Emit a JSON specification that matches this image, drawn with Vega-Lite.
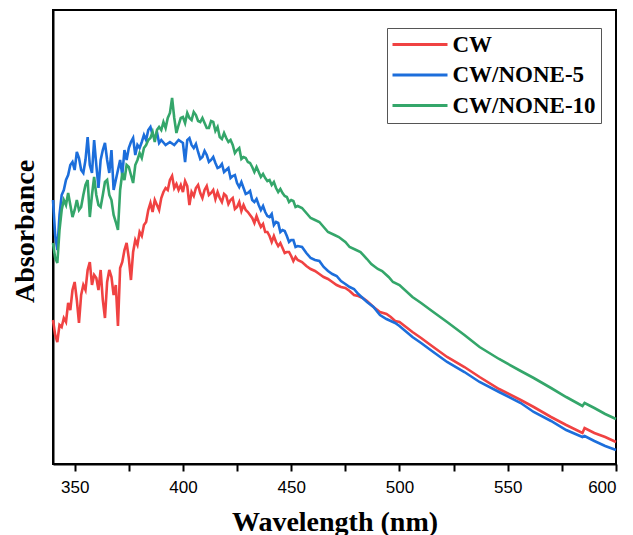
{
  "$schema": "https://vega.github.io/schema/vega-lite/v6.json",
  "width": 563,
  "height": 454,
  "autosize": "none",
  "padding": {"left": 53, "top": 10, "right": 17, "bottom": 71},
  "background": "white",
  "config": {
    "view": {"stroke": "black", "strokeWidth": 2},
    "axis": {"grid": false, "domainColor": "black", "domainWidth": 2, "tickColor": "black", "labelColor": "black", "titleColor": "black"}
  },
  "data": {"values": [
    {"s":"CW","x":340,"y":144},{"s":"CW","x":341,"y":129},{"s":"CW","x":342,"y":122},{"s":"CW","x":343,"y":139},{"s":"CW","x":344,"y":137},{"s":"CW","x":345,"y":146},{"s":"CW","x":346,"y":142},{"s":"CW","x":347,"y":161},{"s":"CW","x":348,"y":154},{"s":"CW","x":349,"y":174},{"s":"CW","x":350,"y":182},{"s":"CW","x":351,"y":164},{"s":"CW","x":352,"y":141},{"s":"CW","x":353,"y":169},{"s":"CW","x":354,"y":179},{"s":"CW","x":355,"y":174},{"s":"CW","x":356,"y":194},{"s":"CW","x":357,"y":202},{"s":"CW","x":358,"y":179},{"s":"CW","x":359,"y":189},{"s":"CW","x":360,"y":186},{"s":"CW","x":361,"y":174},{"s":"CW","x":362,"y":194},{"s":"CW","x":363,"y":164},{"s":"CW","x":364,"y":146},{"s":"CW","x":365,"y":182},{"s":"CW","x":366,"y":194},{"s":"CW","x":367,"y":187},{"s":"CW","x":368,"y":169},{"s":"CW","x":369,"y":179},{"s":"CW","x":370,"y":138},{"s":"CW","x":371,"y":196},{"s":"CW","x":372,"y":202},{"s":"CW","x":373,"y":214},{"s":"CW","x":374,"y":221},{"s":"CW","x":375,"y":206},{"s":"CW","x":376,"y":184},{"s":"CW","x":377,"y":212},{"s":"CW","x":378,"y":224},{"s":"CW","x":379,"y":219},{"s":"CW","x":380,"y":232},{"s":"CW","x":381,"y":228},{"s":"CW","x":382,"y":239},{"s":"CW","x":383,"y":242},{"s":"CW","x":384,"y":254},{"s":"CW","x":385,"y":261},{"s":"CW","x":386,"y":252},{"s":"CW","x":387,"y":264},{"s":"CW","x":388,"y":259},{"s":"CW","x":389,"y":254},{"s":"CW","x":390,"y":266},{"s":"CW","x":391,"y":272},{"s":"CW","x":392,"y":276},{"s":"CW","x":393,"y":274},{"s":"CW","x":394,"y":284},{"s":"CW","x":395,"y":288},{"s":"CW","x":396,"y":276},{"s":"CW","x":397,"y":280},{"s":"CW","x":398,"y":274},{"s":"CW","x":399,"y":279},{"s":"CW","x":400,"y":272},{"s":"CW","x":402,"y":278},{"s":"CW","x":403,"y":259},{"s":"CW","x":404,"y":272},{"s":"CW","x":406,"y":276},{"s":"CW","x":408,"y":271},{"s":"CW","x":410,"y":274},{"s":"CW","x":412,"y":269},{"s":"CW","x":414,"y":274},{"s":"CW","x":417,"y":266},{"s":"CW","x":420,"y":268},{"s":"CW","x":422,"y":264},{"s":"CW","x":425,"y":257},{"s":"CW","x":428,"y":259},{"s":"CW","x":430,"y":252},{"s":"CW","x":432,"y":246},{"s":"CW","x":435,"y":242},{"s":"CW","x":438,"y":232},{"s":"CW","x":440,"y":228},{"s":"CW","x":443,"y":222},{"s":"CW","x":446,"y":216},{"s":"CW","x":448,"y":212},{"s":"CW","x":450,"y":208},{"s":"CW","x":453,"y":204},{"s":"CW","x":457,"y":198},{"s":"CW","x":461,"y":193},{"s":"CW","x":465,"y":187},{"s":"CW","x":469,"y":182},{"s":"CW","x":473,"y":177},{"s":"CW","x":477,"y":173},{"s":"CW","x":481,"y":168},{"s":"CW","x":485,"y":163},{"s":"CW","x":491,"y":152},{"s":"CW","x":496,"y":147},{"s":"CW","x":500,"y":142},{"s":"CW","x":506,"y":132},{"s":"CW","x":510,"y":126},{"s":"CW","x":515,"y":118},{"s":"CW","x":522,"y":107},{"s":"CW","x":530,"y":97},{"s":"CW","x":537,"y":87},{"s":"CW","x":546,"y":75},{"s":"CW","x":556,"y":64},{"s":"CW","x":562,"y":57},{"s":"CW","x":570,"y":47},{"s":"CW","x":577,"y":39},{"s":"CW","x":584.5,"y":31},{"s":"CW","x":585.5,"y":36},{"s":"CW","x":590,"y":31},{"s":"CW","x":595,"y":27},{"s":"CW","x":600,"y":22},
    {"s":"CW","x":401,"y":283},{"s":"CW","x":405,"y":268},{"s":"CW","x":407,"y":279},{"s":"CW","x":409,"y":266},{"s":"CW","x":411,"y":278},{"s":"CW","x":413,"y":271},{"s":"CW","x":415,"y":265},{"s":"CW","x":416,"y":272},{"s":"CW","x":418,"y":262},{"s":"CW","x":419,"y":270},{"s":"CW","x":421,"y":260},{"s":"CW","x":423,"y":266},{"s":"CW","x":424,"y":255},{"s":"CW","x":426,"y":262},{"s":"CW","x":427,"y":253},{"s":"CW","x":429,"y":254},{"s":"CW","x":431,"y":249},{"s":"CW","x":433,"y":241},{"s":"CW","x":434,"y":248},{"s":"CW","x":436,"y":237},{"s":"CW","x":437,"y":240},{"s":"CW","x":439,"y":232},{"s":"CW","x":441,"y":222},{"s":"CW","x":442,"y":228},{"s":"CW","x":444,"y":218},{"s":"CW","x":445,"y":221},{"s":"CW","x":447,"y":211},{"s":"CW","x":449,"y":212},{"s":"CW","x":451,"y":203},{"s":"CW","x":452,"y":207},{"s":"CW","x":455,"y":202},{"s":"CW","x":459,"y":195},{"s":"CW","x":463,"y":190},{"s":"CW","x":467,"y":185},{"s":"CW","x":471,"y":179},{"s":"CW","x":475,"y":176},{"s":"CW","x":479,"y":169},{"s":"CW","x":483,"y":166},{"s":"CW","x":488,"y":157},{"s":"CW","x":494,"y":150},{"s":"CW","x":498,"y":143},
    {"s":"CW/NONE-5","x":340,"y":264},{"s":"CW/NONE-5","x":341,"y":229},{"s":"CW/NONE-5","x":342,"y":214},{"s":"CW/NONE-5","x":343,"y":249},{"s":"CW/NONE-5","x":344,"y":269},{"s":"CW/NONE-5","x":345,"y":274},{"s":"CW/NONE-5","x":346,"y":284},{"s":"CW/NONE-5","x":347,"y":289},{"s":"CW/NONE-5","x":348,"y":299},{"s":"CW/NONE-5","x":349,"y":302},{"s":"CW/NONE-5","x":350,"y":294},{"s":"CW/NONE-5","x":351,"y":312},{"s":"CW/NONE-5","x":352,"y":306},{"s":"CW/NONE-5","x":353,"y":294},{"s":"CW/NONE-5","x":354,"y":291},{"s":"CW/NONE-5","x":355,"y":304},{"s":"CW/NONE-5","x":356,"y":327},{"s":"CW/NONE-5","x":357,"y":299},{"s":"CW/NONE-5","x":358,"y":291},{"s":"CW/NONE-5","x":359,"y":324},{"s":"CW/NONE-5","x":360,"y":299},{"s":"CW/NONE-5","x":361,"y":276},{"s":"CW/NONE-5","x":362,"y":304},{"s":"CW/NONE-5","x":363,"y":314},{"s":"CW/NONE-5","x":364,"y":321},{"s":"CW/NONE-5","x":365,"y":304},{"s":"CW/NONE-5","x":366,"y":291},{"s":"CW/NONE-5","x":367,"y":314},{"s":"CW/NONE-5","x":368,"y":274},{"s":"CW/NONE-5","x":369,"y":284},{"s":"CW/NONE-5","x":370,"y":294},{"s":"CW/NONE-5","x":371,"y":304},{"s":"CW/NONE-5","x":372,"y":289},{"s":"CW/NONE-5","x":373,"y":314},{"s":"CW/NONE-5","x":374,"y":304},{"s":"CW/NONE-5","x":375,"y":316},{"s":"CW/NONE-5","x":376,"y":322},{"s":"CW/NONE-5","x":377,"y":326},{"s":"CW/NONE-5","x":378,"y":309},{"s":"CW/NONE-5","x":379,"y":319},{"s":"CW/NONE-5","x":380,"y":316},{"s":"CW/NONE-5","x":381,"y":322},{"s":"CW/NONE-5","x":382,"y":329},{"s":"CW/NONE-5","x":383,"y":324},{"s":"CW/NONE-5","x":384,"y":334},{"s":"CW/NONE-5","x":385,"y":337},{"s":"CW/NONE-5","x":386,"y":329},{"s":"CW/NONE-5","x":387,"y":326},{"s":"CW/NONE-5","x":388,"y":332},{"s":"CW/NONE-5","x":389,"y":321},{"s":"CW/NONE-5","x":390,"y":324},{"s":"CW/NONE-5","x":392,"y":319},{"s":"CW/NONE-5","x":394,"y":322},{"s":"CW/NONE-5","x":396,"y":319},{"s":"CW/NONE-5","x":398,"y":324},{"s":"CW/NONE-5","x":400,"y":321},{"s":"CW/NONE-5","x":401,"y":302},{"s":"CW/NONE-5","x":402,"y":324},{"s":"CW/NONE-5","x":403,"y":326},{"s":"CW/NONE-5","x":405,"y":316},{"s":"CW/NONE-5","x":407,"y":312},{"s":"CW/NONE-5","x":409,"y":307},{"s":"CW/NONE-5","x":411,"y":309},{"s":"CW/NONE-5","x":413,"y":304},{"s":"CW/NONE-5","x":415,"y":301},{"s":"CW/NONE-5","x":417,"y":297},{"s":"CW/NONE-5","x":420,"y":294},{"s":"CW/NONE-5","x":423,"y":288},{"s":"CW/NONE-5","x":425,"y":281},{"s":"CW/NONE-5","x":428,"y":276},{"s":"CW/NONE-5","x":430,"y":271},{"s":"CW/NONE-5","x":432,"y":264},{"s":"CW/NONE-5","x":435,"y":259},{"s":"CW/NONE-5","x":438,"y":252},{"s":"CW/NONE-5","x":440,"y":247},{"s":"CW/NONE-5","x":443,"y":242},{"s":"CW/NONE-5","x":446,"y":234},{"s":"CW/NONE-5","x":448,"y":228},{"s":"CW/NONE-5","x":450,"y":224},{"s":"CW/NONE-5","x":453,"y":218},{"s":"CW/NONE-5","x":457,"y":211},{"s":"CW/NONE-5","x":461,"y":204},{"s":"CW/NONE-5","x":465,"y":197},{"s":"CW/NONE-5","x":469,"y":190},{"s":"CW/NONE-5","x":473,"y":183},{"s":"CW/NONE-5","x":477,"y":177},{"s":"CW/NONE-5","x":481,"y":170},{"s":"CW/NONE-5","x":485,"y":162},{"s":"CW/NONE-5","x":491,"y":149},{"s":"CW/NONE-5","x":496,"y":143},{"s":"CW/NONE-5","x":500,"y":138},{"s":"CW/NONE-5","x":506,"y":127},{"s":"CW/NONE-5","x":510,"y":121},{"s":"CW/NONE-5","x":515,"y":113},{"s":"CW/NONE-5","x":522,"y":102},{"s":"CW/NONE-5","x":530,"y":92},{"s":"CW/NONE-5","x":537,"y":82},{"s":"CW/NONE-5","x":546,"y":72},{"s":"CW/NONE-5","x":556,"y":61},{"s":"CW/NONE-5","x":562,"y":52},{"s":"CW/NONE-5","x":570,"y":43},{"s":"CW/NONE-5","x":577,"y":34},{"s":"CW/NONE-5","x":584.5,"y":27},{"s":"CW/NONE-5","x":585.5,"y":28},{"s":"CW/NONE-5","x":590,"y":23},{"s":"CW/NONE-5","x":595,"y":18},{"s":"CW/NONE-5","x":600,"y":14},
    {"s":"CW/NONE-5","x":404,"y":319},{"s":"CW/NONE-5","x":406,"y":320},{"s":"CW/NONE-5","x":408,"y":305},{"s":"CW/NONE-5","x":410,"y":313},{"s":"CW/NONE-5","x":412,"y":302},{"s":"CW/NONE-5","x":414,"y":307},{"s":"CW/NONE-5","x":416,"y":296},{"s":"CW/NONE-5","x":418,"y":300},{"s":"CW/NONE-5","x":419,"y":292},{"s":"CW/NONE-5","x":421,"y":296},{"s":"CW/NONE-5","x":422,"y":286},{"s":"CW/NONE-5","x":424,"y":289},{"s":"CW/NONE-5","x":426,"y":277},{"s":"CW/NONE-5","x":427,"y":282},{"s":"CW/NONE-5","x":429,"y":270},{"s":"CW/NONE-5","x":431,"y":273},{"s":"CW/NONE-5","x":433,"y":262},{"s":"CW/NONE-5","x":434,"y":265},{"s":"CW/NONE-5","x":436,"y":254},{"s":"CW/NONE-5","x":437,"y":258},{"s":"CW/NONE-5","x":439,"y":248},{"s":"CW/NONE-5","x":441,"y":250},{"s":"CW/NONE-5","x":442,"y":239},{"s":"CW/NONE-5","x":444,"y":241},{"s":"CW/NONE-5","x":445,"y":232},{"s":"CW/NONE-5","x":447,"y":233},{"s":"CW/NONE-5","x":449,"y":222},{"s":"CW/NONE-5","x":451,"y":224},{"s":"CW/NONE-5","x":452,"y":217},{"s":"CW/NONE-5","x":455,"y":217},{"s":"CW/NONE-5","x":459,"y":206},{"s":"CW/NONE-5","x":463,"y":203},{"s":"CW/NONE-5","x":467,"y":193},{"s":"CW/NONE-5","x":471,"y":188},{"s":"CW/NONE-5","x":475,"y":180},{"s":"CW/NONE-5","x":479,"y":175},{"s":"CW/NONE-5","x":483,"y":166},{"s":"CW/NONE-5","x":488,"y":157},{"s":"CW/NONE-5","x":494,"y":145},{"s":"CW/NONE-5","x":498,"y":141},
    {"s":"CW/NONE-10","x":340,"y":221},{"s":"CW/NONE-10","x":341,"y":206},{"s":"CW/NONE-10","x":342,"y":201},{"s":"CW/NONE-10","x":343,"y":234},{"s":"CW/NONE-10","x":344,"y":254},{"s":"CW/NONE-10","x":345,"y":264},{"s":"CW/NONE-10","x":346,"y":259},{"s":"CW/NONE-10","x":347,"y":271},{"s":"CW/NONE-10","x":348,"y":259},{"s":"CW/NONE-10","x":349,"y":247},{"s":"CW/NONE-10","x":350,"y":254},{"s":"CW/NONE-10","x":351,"y":264},{"s":"CW/NONE-10","x":352,"y":254},{"s":"CW/NONE-10","x":353,"y":257},{"s":"CW/NONE-10","x":354,"y":269},{"s":"CW/NONE-10","x":355,"y":279},{"s":"CW/NONE-10","x":356,"y":284},{"s":"CW/NONE-10","x":357,"y":247},{"s":"CW/NONE-10","x":358,"y":269},{"s":"CW/NONE-10","x":359,"y":287},{"s":"CW/NONE-10","x":360,"y":269},{"s":"CW/NONE-10","x":361,"y":259},{"s":"CW/NONE-10","x":362,"y":257},{"s":"CW/NONE-10","x":363,"y":269},{"s":"CW/NONE-10","x":364,"y":282},{"s":"CW/NONE-10","x":365,"y":284},{"s":"CW/NONE-10","x":366,"y":269},{"s":"CW/NONE-10","x":367,"y":264},{"s":"CW/NONE-10","x":368,"y":249},{"s":"CW/NONE-10","x":369,"y":242},{"s":"CW/NONE-10","x":370,"y":234},{"s":"CW/NONE-10","x":371,"y":274},{"s":"CW/NONE-10","x":372,"y":291},{"s":"CW/NONE-10","x":373,"y":284},{"s":"CW/NONE-10","x":374,"y":299},{"s":"CW/NONE-10","x":375,"y":297},{"s":"CW/NONE-10","x":376,"y":289},{"s":"CW/NONE-10","x":377,"y":281},{"s":"CW/NONE-10","x":378,"y":299},{"s":"CW/NONE-10","x":379,"y":304},{"s":"CW/NONE-10","x":380,"y":311},{"s":"CW/NONE-10","x":381,"y":306},{"s":"CW/NONE-10","x":382,"y":316},{"s":"CW/NONE-10","x":383,"y":319},{"s":"CW/NONE-10","x":384,"y":324},{"s":"CW/NONE-10","x":385,"y":326},{"s":"CW/NONE-10","x":386,"y":332},{"s":"CW/NONE-10","x":387,"y":322},{"s":"CW/NONE-10","x":388,"y":334},{"s":"CW/NONE-10","x":389,"y":337},{"s":"CW/NONE-10","x":390,"y":334},{"s":"CW/NONE-10","x":391,"y":342},{"s":"CW/NONE-10","x":392,"y":336},{"s":"CW/NONE-10","x":393,"y":346},{"s":"CW/NONE-10","x":394,"y":351},{"s":"CW/NONE-10","x":395,"y":366},{"s":"CW/NONE-10","x":396,"y":346},{"s":"CW/NONE-10","x":397,"y":331},{"s":"CW/NONE-10","x":398,"y":339},{"s":"CW/NONE-10","x":399,"y":346},{"s":"CW/NONE-10","x":400,"y":347},{"s":"CW/NONE-10","x":402,"y":351},{"s":"CW/NONE-10","x":404,"y":344},{"s":"CW/NONE-10","x":406,"y":349},{"s":"CW/NONE-10","x":408,"y":342},{"s":"CW/NONE-10","x":410,"y":341},{"s":"CW/NONE-10","x":412,"y":336},{"s":"CW/NONE-10","x":414,"y":342},{"s":"CW/NONE-10","x":417,"y":327},{"s":"CW/NONE-10","x":420,"y":326},{"s":"CW/NONE-10","x":423,"y":319},{"s":"CW/NONE-10","x":425,"y":314},{"s":"CW/NONE-10","x":428,"y":307},{"s":"CW/NONE-10","x":430,"y":302},{"s":"CW/NONE-10","x":432,"y":297},{"s":"CW/NONE-10","x":435,"y":292},{"s":"CW/NONE-10","x":438,"y":286},{"s":"CW/NONE-10","x":440,"y":284},{"s":"CW/NONE-10","x":443,"y":276},{"s":"CW/NONE-10","x":446,"y":271},{"s":"CW/NONE-10","x":448,"y":267},{"s":"CW/NONE-10","x":450,"y":264},{"s":"CW/NONE-10","x":453,"y":258},{"s":"CW/NONE-10","x":457,"y":251},{"s":"CW/NONE-10","x":461,"y":244},{"s":"CW/NONE-10","x":465,"y":237},{"s":"CW/NONE-10","x":470,"y":229},{"s":"CW/NONE-10","x":475,"y":222},{"s":"CW/NONE-10","x":480,"y":214},{"s":"CW/NONE-10","x":485,"y":205},{"s":"CW/NONE-10","x":490,"y":195},{"s":"CW/NONE-10","x":495,"y":187},{"s":"CW/NONE-10","x":500,"y":179},{"s":"CW/NONE-10","x":506,"y":167},{"s":"CW/NONE-10","x":510,"y":161},{"s":"CW/NONE-10","x":515,"y":153},{"s":"CW/NONE-10","x":522,"y":142},{"s":"CW/NONE-10","x":530,"y":129},{"s":"CW/NONE-10","x":537,"y":117},{"s":"CW/NONE-10","x":546,"y":105},{"s":"CW/NONE-10","x":556,"y":93},{"s":"CW/NONE-10","x":562,"y":86},{"s":"CW/NONE-10","x":570,"y":76},{"s":"CW/NONE-10","x":577,"y":67},{"s":"CW/NONE-10","x":584.5,"y":58},{"s":"CW/NONE-10","x":585.5,"y":61},{"s":"CW/NONE-10","x":590,"y":56},{"s":"CW/NONE-10","x":595,"y":50},{"s":"CW/NONE-10","x":600,"y":45},
    {"s":"CW/NONE-10","x":401,"y":341},{"s":"CW/NONE-10","x":403,"y":346},{"s":"CW/NONE-10","x":405,"y":352},{"s":"CW/NONE-10","x":407,"y":343},{"s":"CW/NONE-10","x":409,"y":346},{"s":"CW/NONE-10","x":411,"y":336},{"s":"CW/NONE-10","x":413,"y":343},{"s":"CW/NONE-10","x":415,"y":333},{"s":"CW/NONE-10","x":416,"y":337},{"s":"CW/NONE-10","x":418,"y":325},{"s":"CW/NONE-10","x":419,"y":331},{"s":"CW/NONE-10","x":421,"y":322},{"s":"CW/NONE-10","x":422,"y":324},{"s":"CW/NONE-10","x":424,"y":311},{"s":"CW/NONE-10","x":426,"y":316},{"s":"CW/NONE-10","x":427,"y":305},{"s":"CW/NONE-10","x":429,"y":306},{"s":"CW/NONE-10","x":431,"y":301},{"s":"CW/NONE-10","x":433,"y":292},{"s":"CW/NONE-10","x":434,"y":297},{"s":"CW/NONE-10","x":436,"y":287},{"s":"CW/NONE-10","x":437,"y":290},{"s":"CW/NONE-10","x":439,"y":283},{"s":"CW/NONE-10","x":441,"y":279},{"s":"CW/NONE-10","x":442,"y":282},{"s":"CW/NONE-10","x":444,"y":272},{"s":"CW/NONE-10","x":445,"y":275},{"s":"CW/NONE-10","x":447,"y":268},{"s":"CW/NONE-10","x":449,"y":262},{"s":"CW/NONE-10","x":451,"y":263},{"s":"CW/NONE-10","x":452,"y":257},{"s":"CW/NONE-10","x":455,"y":256},{"s":"CW/NONE-10","x":459,"y":246},{"s":"CW/NONE-10","x":463,"y":242},{"s":"CW/NONE-10","x":467,"y":232},{"s":"CW/NONE-10","x":472,"y":227},{"s":"CW/NONE-10","x":477,"y":217},{"s":"CW/NONE-10","x":482,"y":212},{"s":"CW/NONE-10","x":487,"y":200},{"s":"CW/NONE-10","x":492,"y":193},{"s":"CW/NONE-10","x":497,"y":182}
  ]},
  "mark": {"type": "line", "strokeWidth": 2.6, "interpolate": "linear"},
  "encoding": {
    "x": {
      "field": "x", "type": "quantitative",
      "scale": {"domain": [340, 600], "nice": false, "zero": false},
      "axis": {
        "title": "Wavelength (nm)",
        "values": [350, 375, 400, 425, 450, 475, 500, 525, 550, 575, 600],
        "labelExpr": "datum.value % 50 === 0 ? datum.label : ''",
        "labelFont": "Liberation Sans", "labelFontSize": 17,
        "tickSize": 7, "tickWidth": 2, "labelPadding": 8,
        "encode": {"ticks": {"update": {"y2": {"signal": "datum.value % 50 === 0 ? 7 : 4"}}}},
        "titleFont": "Liberation Serif", "titleFontWeight": "bold", "titleFontSize": 28,
        "titleBaseline": "alphabetic", "titleY": 66
      }
    },
    "y": {
      "field": "y", "type": "quantitative",
      "scale": {"domain": [0, 454], "nice": false, "zero": false},
      "axis": {
        "title": "Absorbance", "labels": false, "ticks": false,
        "titleFont": "Liberation Serif", "titleFontWeight": "bold", "titleFontSize": 28,
        "titleAngle": 270, "titleBaseline": "alphabetic", "titleAlign": "center",
        "titleX": -20, "titleY": 221
      }
    },
    "color": {
      "field": "s", "type": "nominal",
      "scale": {"domain": ["CW", "CW/NONE-5", "CW/NONE-10"], "range": ["#F04242", "#1C6EDB", "#34A66A"]},
      "legend": {
        "title": null, "orient": "none", "legendX": 334, "legendY": 18,
        "symbolType": "M-5.5,0H5.5", "symbolSize": 100, "symbolStrokeWidth": 3,
        "symbolOffset": 16.5, "labelOffset": 21,
        "labelFont": "Liberation Serif", "labelFontWeight": "bold", "labelFontSize": 23, "labelColor": "black",
        "rowPadding": 6.5, "padding": 5, "strokeColor": "#555555", "fillColor": "white"
      }
    }
  }
}
